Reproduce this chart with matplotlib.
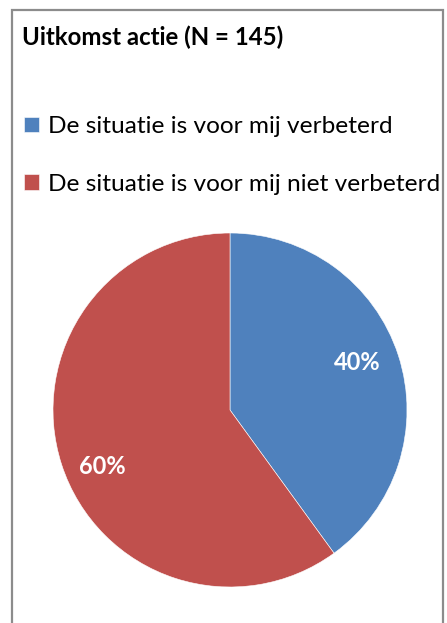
import matplotlib.pyplot as plt
from matplotlib.patches import Rectangle

title = 'Uitkomst actie (N = 145)'
labels = ['De situatie is voor mij verbeterd', 'De situatie is voor mij niet verbeterd']
values = [40, 60]
colors = ['#4F81BD', '#C0504D']

W, H = 447, 623
plt.rcParams['font.family'] = ['Lato', 'DejaVu Sans']

fig = plt.figure(figsize=(W / 100, H / 100), dpi=100)
fig.patch.set_facecolor('white')

# frame of the chart area (open at the bottom)
fig.add_artist(Rectangle((12 / W, -0.05), 431 / W, 1.05 - 10 / H, transform=fig.transFigure,
                         fill=False, edgecolor='#8c8c8c', linewidth=1.6))

fig.text(22 / W, 1 - 37 / H, title, fontsize=17.3, fontweight='bold', va='center', ha='left')

# pie: centre (230, 410) px, radius 177 px
ax = fig.add_axes([53 / W, 36 / H, 354 / W, 354 / H])
wedges, _, autotexts = ax.pie(values, colors=colors, startangle=90, counterclock=False,
                              autopct='%1.0f%%', pctdistance=0.78, radius=1,
                              wedgeprops=dict(edgecolor='white', linewidth=0.4))
# label positions nudged like the original (Excel-style placement)
label_pos = [(0.72, 0.27), (-0.72, -0.32)]
for t, p in zip(autotexts, label_pos):
    t.set_position(p)
    t.set_color('white')
    t.set_fontsize(17)
    t.set_fontweight('bold')
ax.set_xlim(-1, 1)
ax.set_ylim(-1, 1)
ax.set_aspect('equal')
ax.axis('off')

fig.legend(wedges, labels, loc='upper left', bbox_to_anchor=(24 / W, 1 - 116 / H),
           frameon=False, fontsize=17.6, handlelength=0.6, handleheight=0.6,
           handletextpad=0.4, labelspacing=1.5, borderpad=0, borderaxespad=0)

fig.savefig('out.png', dpi=100)
